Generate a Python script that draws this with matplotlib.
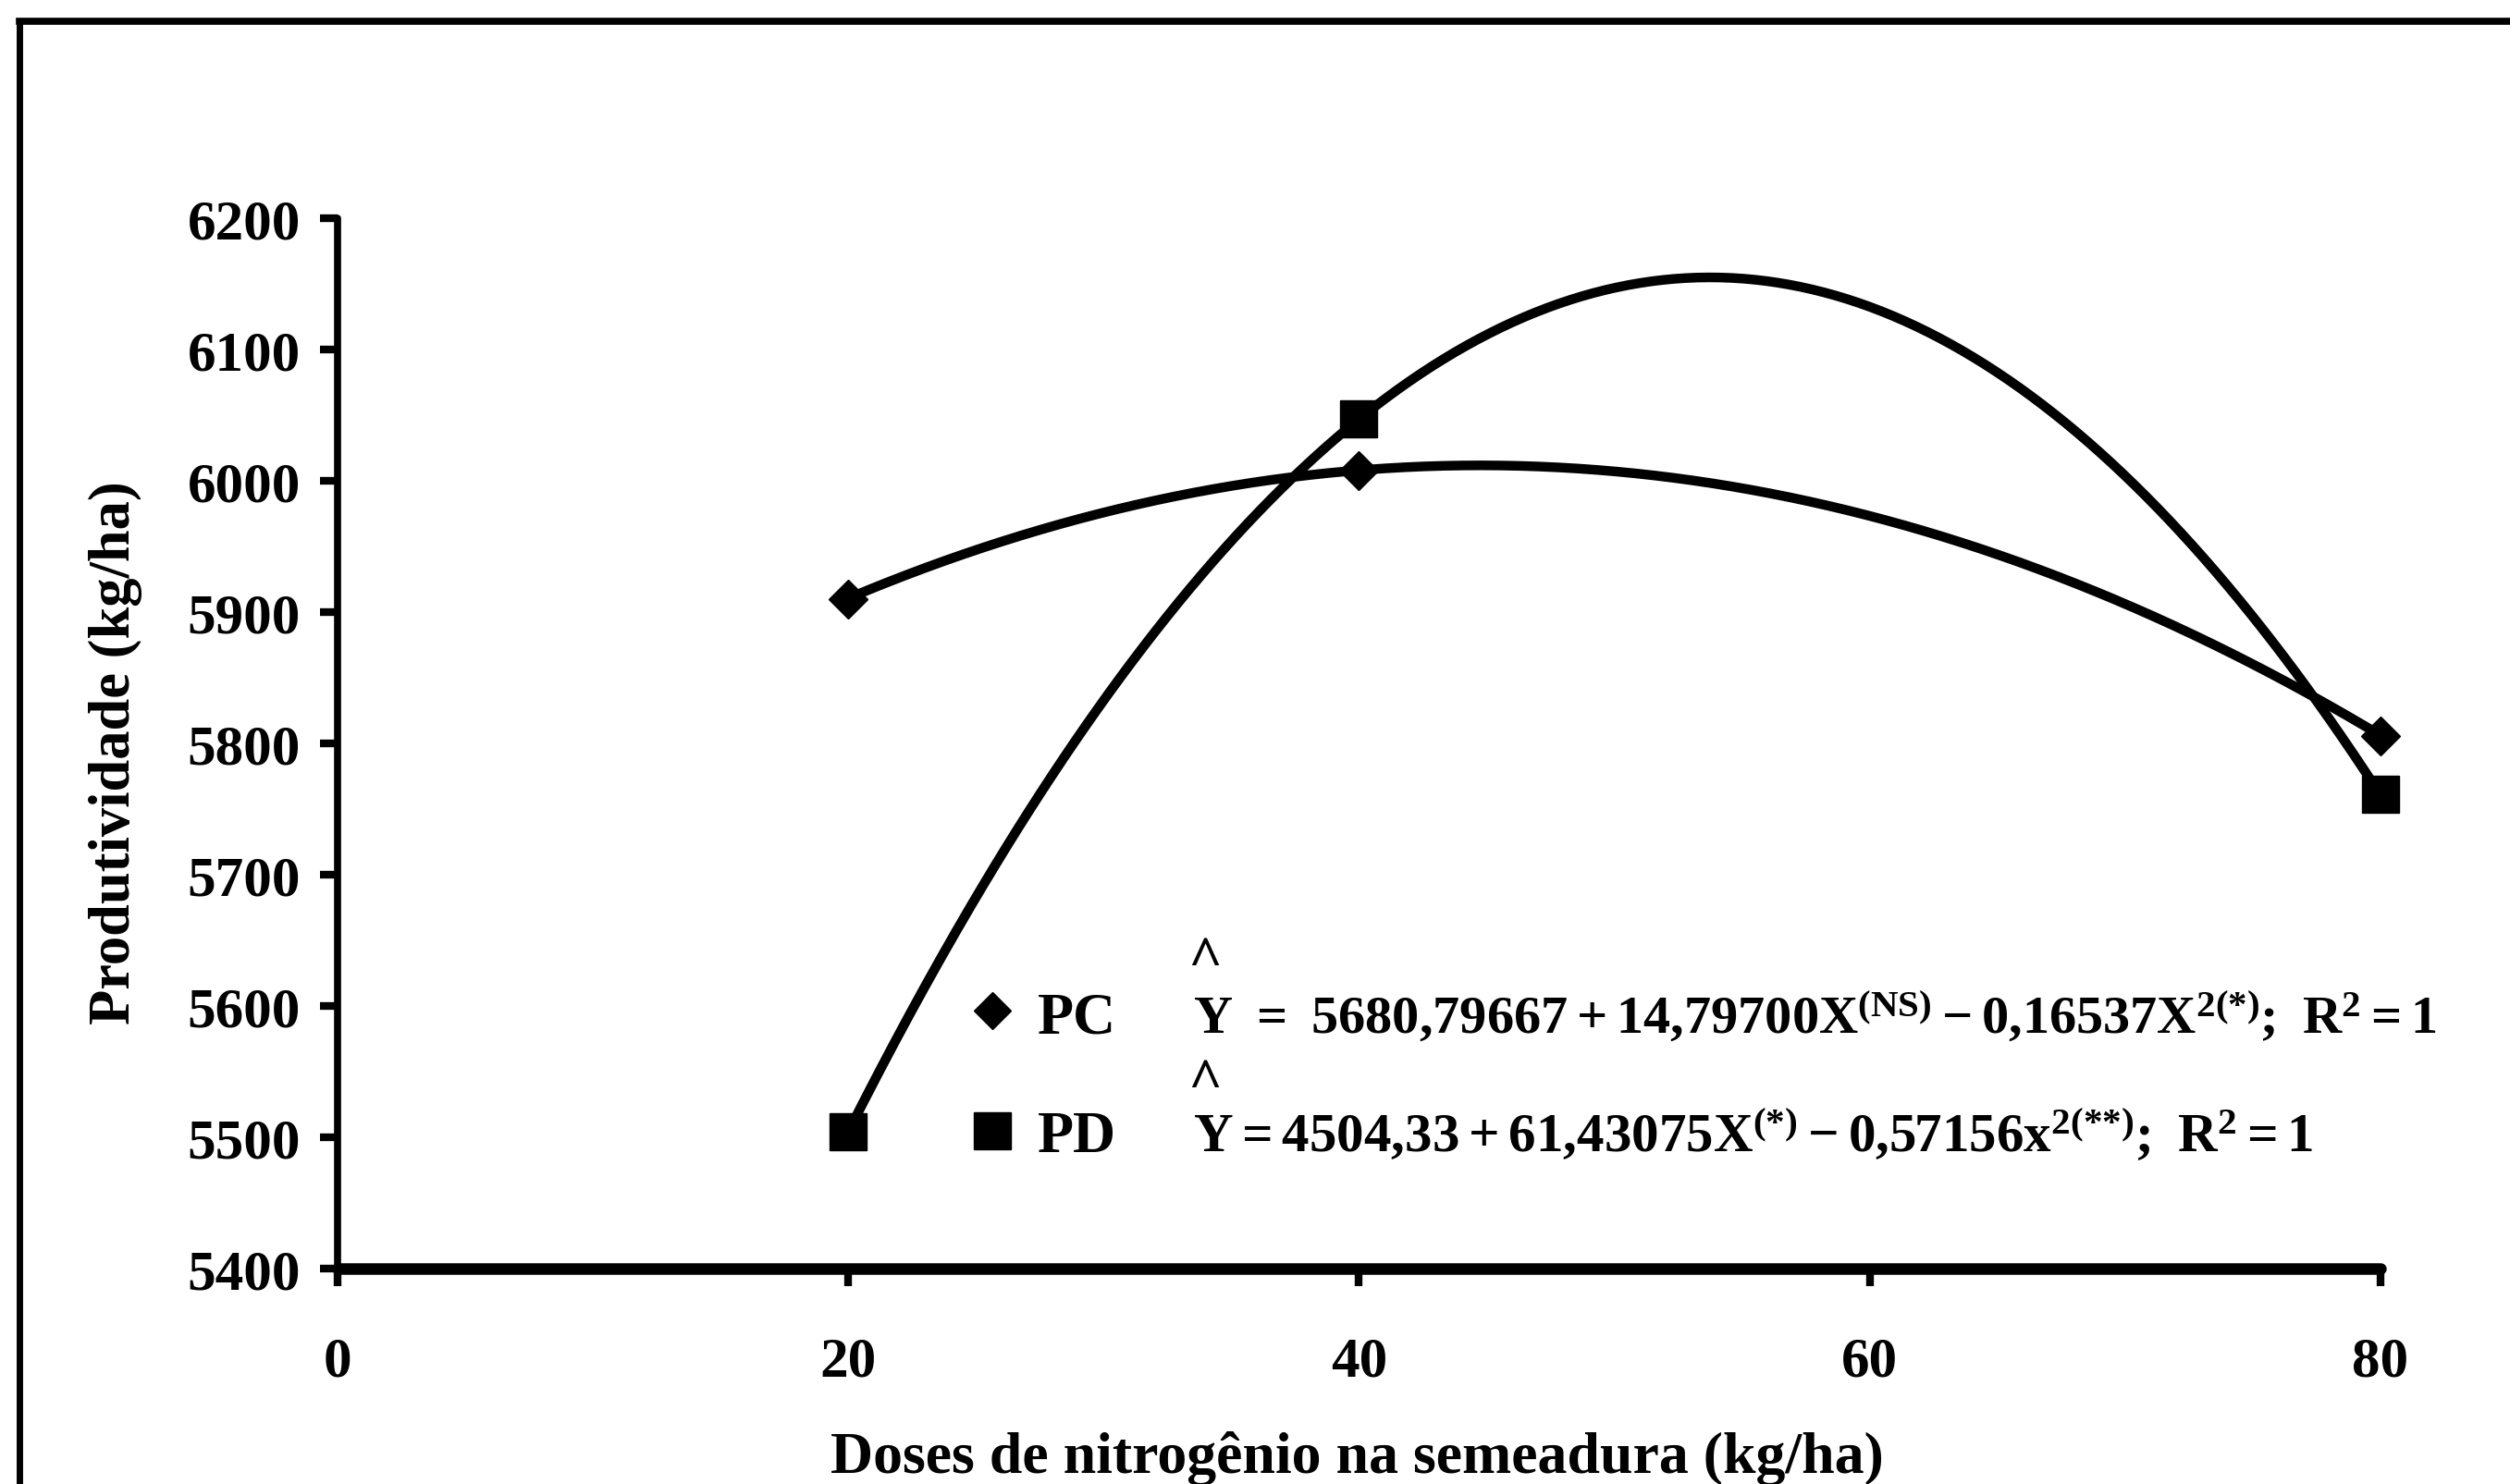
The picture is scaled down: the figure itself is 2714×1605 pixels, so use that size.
import numpy as np
import matplotlib
matplotlib.use("Agg")
import matplotlib.pyplot as plt
from matplotlib.lines import Line2D

# ---- data ----
doses = [20, 40, 80]
pc_values = [5910, 6008, 5806]
pd_values = [5504, 6047, 5761]
# regression coefficients printed on the chart (b0, b1, b2)
pc_coef = [5680.79667, 14.79700, -0.16537]
pd_coef = [4504.33, 61.43075, -0.57156]
x_ticks = [0, 20, 40, 60, 80]
y_ticks = [5400, 5500, 5600, 5700, 5800, 5900, 6000, 6100, 6200]
series_names = ["PC", "PD"]
pc_equation = r"$\mathrm{Y\ =\ 5680{,}79667 + 14{,}79700X^{(NS)} - 0{,}16537X^{2({*})};\ R^{2} = 1}$"
pd_equation = r"$\mathrm{Y = 4504{,}33 + 61{,}43075X^{({*})} - 0{,}57156x^{2({*}{*})};\ R^{2} = 1}$"
x_label = "Doses de nitrogênio na semeadura (kg/ha)"
y_label = "Produtividade (kg/ha)"

plt.rcParams["font.family"] = ["Liberation Serif", "DejaVu Serif"]
plt.rcParams["font.weight"] = "bold"
plt.rcParams["mathtext.fontset"] = "custom"
plt.rcParams["mathtext.rm"] = "Liberation Serif:bold"
plt.rcParams["mathtext.it"] = "Liberation Serif:bold"
plt.rcParams["mathtext.bf"] = "Liberation Serif:bold"

FS = 44
fig = plt.figure(figsize=(27.14, 16.06), dpi=100)
ax = fig.add_axes([0.1345, 0.145, 0.8139, 0.7074])

# figure frame (left and top edges of scanned box)
fig.add_artist(Line2D([0.0078, 0.0078], [0.0, 0.985], transform=fig.transFigure,
                      color="black", lw=5, solid_capstyle="projecting"))
fig.add_artist(Line2D([0.0078, 1.0], [0.985, 0.985], transform=fig.transFigure,
                      color="black", lw=5.5, solid_capstyle="projecting"))

xs = np.linspace(min(doses), max(doses), 400)
for coef in (pc_coef, pd_coef):
    ys = coef[0] + coef[1] * xs + coef[2] * xs ** 2
    ax.plot(xs, ys, color="black", lw=7.5, solid_capstyle="round", clip_on=False, zorder=2)

ax.plot(doses, pc_values, linestyle="none", marker="D", ms=21, color="black",
        clip_on=False, zorder=3)
ax.plot(doses, pd_values, linestyle="none", marker="s", ms=29, color="black",
        clip_on=False, zorder=3)

ax.set_xlim(0, 80)
ax.set_ylim(5400, 6200)
ax.set_xticks(x_ticks)
ax.set_yticks(y_ticks)
ax.set_xticklabels([str(v) for v in x_ticks])
ax.set_yticklabels([str(v) for v in y_ticks])

for s in ("top", "right"):
    ax.spines[s].set_visible(False)
ax.spines["left"].set_linewidth(5.5)
ax.spines["bottom"].set_linewidth(9)
ax.spines["left"].set_capstyle("round")
ax.spines["bottom"].set_capstyle("round")

ax.tick_params(axis="both", direction="out", length=14, width=6, labelsize=FS,
               colors="black")
ax.tick_params(axis="x", pad=38)
ax.tick_params(axis="y", pad=15)
for lab in ax.get_xticklabels() + ax.get_yticklabels():
    lab.set_fontweight("bold")

# axis titles
fig.text(0.5405, 0.018, x_label, ha="center", va="center", fontsize=46, fontweight="bold")
fig.text(0.046, 0.493, y_label, ha="center", va="center", rotation=90,
         fontsize=45, fontweight="bold")

# in-plot legend with equations
ax.plot([0.3205], [0.2456], transform=ax.transAxes, marker="D", ms=20, color="black",
        linestyle="none", clip_on=False)
ax.plot([0.3205], [0.131], transform=ax.transAxes, marker="s", ms=29, color="black",
        linestyle="none", clip_on=False)
ax.text(0.3427, 0.2254, series_names[0], transform=ax.transAxes, ha="left",
        va="baseline", fontsize=46, fontweight="bold")
ax.text(0.3427, 0.112, series_names[1], transform=ax.transAxes, ha="left",
        va="baseline", fontsize=46, fontweight="bold")
ax.text(0.4187, 0.2254, pc_equation, transform=ax.transAxes, ha="left",
        va="baseline", fontsize=42)
ax.text(0.4187, 0.112, pd_equation, transform=ax.transAxes, ha="left",
        va="baseline", fontsize=42.5)
ax.text(0.4245, 0.292, "^", transform=ax.transAxes, ha="center", va="center",
        fontsize=46, fontweight="bold")
ax.text(0.4245, 0.176, "^", transform=ax.transAxes, ha="center", va="center",
        fontsize=46, fontweight="bold")

fig.savefig("out.png", dpi=100, facecolor="white")
